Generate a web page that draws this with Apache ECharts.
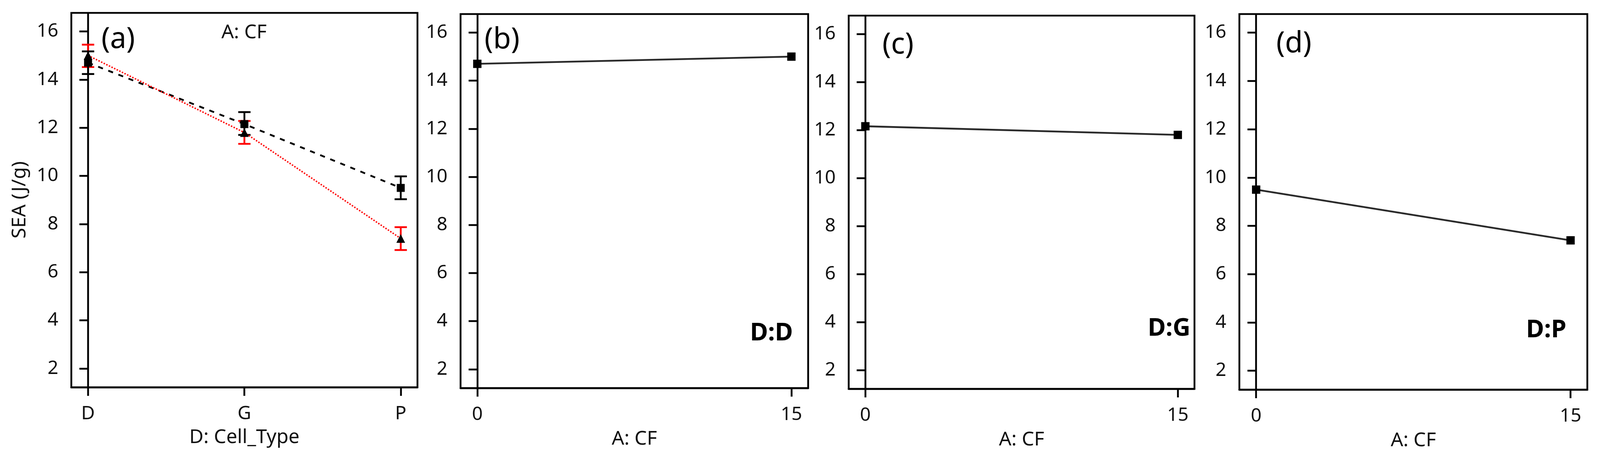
<!DOCTYPE html>
<html>
<head>
<meta charset="utf-8">
<script src="https://cdn.jsdelivr.net/npm/echarts@6/dist/echarts.min.js"></script>
<style>
html,body{margin:0;padding:0;background:#fff;overflow:hidden;}
#chart{position:absolute;left:0;top:0;}
</style>
</head>
<body>
<div id="chart"></div>
<script>
// ---------- data ----------
const cellTypes = ['D', 'G', 'P'];
const cf0SEA = [14.7, 12.15, 9.5];     // A: CF = 0 (black, dashed, squares)
const cf0Low = [14.23, 11.70, 9.03];
const cf0High = [15.17, 12.65, 9.98];
const cf15SEA = [15.0, 11.8, 7.4];     // A: CF = 15 (red, dotted, triangles)
const cf15Low = [14.52, 11.33, 6.92];
const cf15High = [15.45, 12.28, 7.87];

const cfLevels = [0, 15];
const seaDD = [14.7, 15.0];
const seaDG = [12.16, 11.8];
const seaDP = [9.5, 7.4];

const yTicks = [2, 4, 6, 8, 10, 12, 14, 16];
const panelLabels = ['(a)', '(b)', '(c)', '(d)'];
const cellLabels = ['D:D', 'D:G', 'D:P'];

// ---------- layout (designed for 4419 x 1186, scaled to the real viewport) ----------
const W = window.innerWidth || document.documentElement.clientWidth || 4419;
const H = window.innerHeight || document.documentElement.clientHeight || 1186;
const el = document.getElementById('chart');
el.style.width = W + 'px';
el.style.height = H + 'px';
const sx = W / 4419, sy = H / 1186, s = Math.min(sx, sy);
const X = v => v * sx, Y = v => v * sy, S = v => v * s;

const gridsBase = [
  {left: 197, top: 33, width: 956, height: 959},
  {left: 1272, top: 36, width: 960, height: 958},
  {left: 2344, top: 40, width: 955, height: 956},
  {left: 3423, top: 36, width: 961, height: 962}
];
const FONT = "'Noto Sans', 'Open Sans', sans-serif";
const TXT = '#111';

const chart = echarts.init(el, null, {renderer: 'canvas', width: W, height: H});

function yAxisFor(i) {
  return {
    type: 'value', gridIndex: i, min: 1.22, max: 16.77,
    axisLine: {show: true, lineStyle: {color: '#000', width: S(5)}},
    axisTick: {show: true, length: X(24), lineStyle: {color: '#000', width: S(5)}, customValues: yTicks},
    axisLabel: {show: true, margin: X(36), fontSize: S(52), color: TXT, fontFamily: FONT, customValues: yTicks},
    splitLine: {show: false}
  };
}

const xAxes = [
  {
    type: 'value', gridIndex: 0, min: -0.107, max: 2.107,
    axisLine: {show: true, onZero: false, lineStyle: {color: '#000', width: S(5)}},
    axisTick: {show: true, length: Y(22), lineStyle: {color: '#000', width: S(5)}, customValues: [0, 1, 2]},
    axisLabel: {show: true, margin: Y(44), fontSize: S(52), color: TXT, fontFamily: FONT,
      customValues: [0, 1, 2], formatter: v => cellTypes[Math.round(v)]},
    splitLine: {show: false},
    name: 'D: Cell_Type', nameLocation: 'middle', nameGap: Y(104),
    nameTextStyle: {fontSize: S(54), color: TXT, fontFamily: FONT}
  }
];
for (let i = 1; i < 4; i++) {
  xAxes.push({
    type: 'value', gridIndex: i, min: -0.8, max: 15.8,
    axisLine: {show: true, onZero: false, lineStyle: {color: '#000', width: S(5)}},
    axisTick: {show: true, length: Y(22), lineStyle: {color: '#000', width: S(5)}, customValues: cfLevels},
    axisLabel: {show: true, margin: Y(44), fontSize: S(52), color: TXT, fontFamily: FONT, customValues: cfLevels},
    splitLine: {show: false},
    name: 'A: CF', nameLocation: 'middle', nameGap: Y(106),
    nameTextStyle: {fontSize: S(54), color: TXT, fontFamily: FONT}
  });
}

function errorSeries(low, high, color, z) {
  return {
    type: 'custom', xAxisIndex: 0, yAxisIndex: 0, z: z,
    data: low.map((lo, k) => [k, lo, high[k]]),
    encode: {x: 0, y: [1, 2]},
    renderItem: function (params, api) {
      const x = api.value(0);
      const pLo = api.coord([x, api.value(1)]);
      const pHi = api.coord([x, api.value(2)]);
      const hw = X(17);
      const st = {stroke: color, lineWidth: S(5)};
      return {type: 'group', children: [
        {type: 'line', shape: {x1: pLo[0], y1: pLo[1], x2: pHi[0], y2: pHi[1]}, style: st},
        {type: 'line', shape: {x1: pLo[0] - hw, y1: pLo[1], x2: pLo[0] + hw, y2: pLo[1]}, style: st},
        {type: 'line', shape: {x1: pHi[0] - hw, y1: pHi[1], x2: pHi[0] + hw, y2: pHi[1]}, style: st}
      ]};
    }
  };
}

const series = [
  errorSeries(cf15Low, cf15High, '#ff0000', 2),
  errorSeries(cf0Low, cf0High, '#000000', 3),
  {
    type: 'line', xAxisIndex: 0, yAxisIndex: 0, z: 4,
    data: cf0SEA.map((v, k) => [k, v]),
    symbol: 'rect', symbolSize: S(22), showSymbol: true,
    itemStyle: {color: '#000'},
    lineStyle: {color: '#000', width: S(5), type: [S(14), S(16)]}
  },
  {
    type: 'line', xAxisIndex: 0, yAxisIndex: 0, z: 5,
    data: cf15SEA.map((v, k) => [k, v]),
    symbol: 'triangle', symbolSize: S(24), showSymbol: true,
    itemStyle: {color: '#000'},
    lineStyle: {color: '#ff0000', width: S(4), type: [S(4), S(4)]}
  }
];
[seaDD, seaDG, seaDP].forEach((arr, j) => {
  series.push({
    type: 'line', xAxisIndex: j + 1, yAxisIndex: j + 1, z: 4,
    data: cfLevels.map((c, k) => [c, arr[k]]),
    symbol: 'rect', symbolSize: S(23), showSymbol: true,
    itemStyle: {color: '#000'},
    lineStyle: {color: '#2a2a2a', width: S(5)}
  });
});

// ---------- annotations ----------
const panelLabelPos = [[280, 102], [1338, 103], [2437, 116], [3525, 113]];
const cellLabelPos = [[2190, 854], [3288, 842], [4326, 846]];
const graphic = [];
panelLabels.forEach((t, i) => {
  graphic.push({type: 'text', x: X(panelLabelPos[i][0]), y: Y(panelLabelPos[i][1]), z: 10,
    style: {text: t, fontSize: S(80), fontFamily: FONT, fill: '#000', align: 'left', verticalAlign: 'middle'}});
});
cellLabels.forEach((t, i) => {
  graphic.push({type: 'text', x: X(cellLabelPos[i][0]), y: Y(cellLabelPos[i][1]), z: 10,
    style: {text: t, fontSize: S(68), fontWeight: 'bold', fontFamily: FONT, fill: '#000', align: 'right', verticalAlign: 'middle'}});
});
graphic.push({type: 'text', x: X(674), y: Y(84), z: 10,
  style: {text: 'A: CF', fontSize: S(54), fontFamily: FONT, fill: TXT, align: 'center', verticalAlign: 'middle'}});
graphic.push({type: 'text', x: X(55), y: Y(512), rotation: Math.PI / 2, z: 10,
  style: {text: 'SEA (J/g)', fontSize: S(54), fontFamily: FONT, fill: TXT, align: 'center', verticalAlign: 'middle'}});

chart.setOption({
  animation: false,
  backgroundColor: '#fff',
  textStyle: {fontFamily: FONT},
  grid: gridsBase.map(g => ({
    show: true, borderColor: '#000', borderWidth: S(5), backgroundColor: 'transparent',
    left: X(g.left), top: Y(g.top), width: X(g.width), height: Y(g.height)
  })),
  xAxis: xAxes,
  yAxis: [0, 1, 2, 3].map(yAxisFor),
  series: series,
  graphic: graphic
});
</script>
</body>
</html>
